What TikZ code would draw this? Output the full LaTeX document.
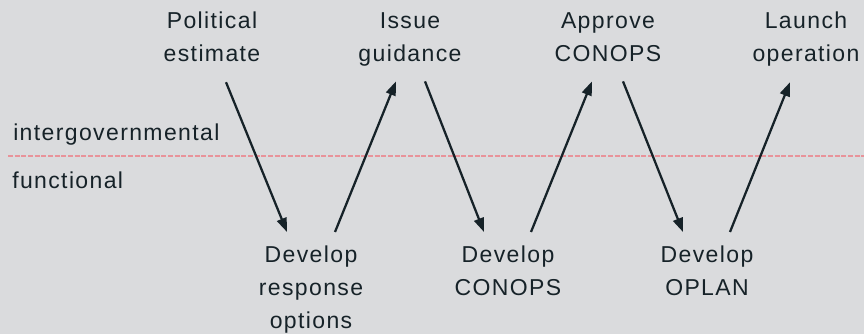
\documentclass[tikz,border=0pt]{standalone}
\usepackage{fontspec}
\setmainfont{Liberation Sans}[LetterSpace=6]
\usetikzlibrary{arrows.meta,calc}
\definecolor{bgcol}{HTML}{DADBDD}
\definecolor{inkcol}{HTML}{162228}
\definecolor{splitcol}{HTML}{E8939A}

\begin{document}
\begin{tikzpicture}[x=0.75pt,y=-0.75pt]
	\tikzset{every node/.style=
        {inner sep=0pt, align=center, text=inkcol, font=\fontsize{17.25}{24.75}\selectfont},
        govtext/.style={anchor=north, text depth=0pt},
        functext/.style={anchor=north},
        flow/.style={line width=1.7pt, draw=inkcol, -{Triangle[length=10.5pt,width=7.5pt]}},
        split/.style={line width=1.8pt, draw=splitcol, dash pattern=on 3.75pt off 1.25pt}
     }
	\fill[bgcol] (0,0) rectangle (864,334);
	\useasboundingbox (0,0) rectangle (864,334);

	% levels
	\draw[split] (8,156) -- (864,156);
	\node (intg) at (13,141) [anchor=base west] {intergovernmental};
	\node (func) at (12,189) [anchor=base west] {functional};

	% intergovernmental steps
	\node (pol) at (212,12) [govtext] {Political\\estimate};
	\node (guide) at (410,12) [govtext] {Issue\\guidance};
	\node (appr) at (608,12) [govtext] {Approve\\CONOPS};
	\node (launch) at (806,12) [govtext] {Launch\\operation};

	% functional steps
	\node (resp) at (311,246) [functext] {Develop\\response\\options};
	\node (dcon) at (508,246) [functext] {Develop\\CONOPS};
	\node (oplan) at (707,246) [functext] {Develop\\OPLAN};

	\draw[flow] ($(pol.south)+(14,20)$) -- ($(resp.north)+(-24,-14)$);
	\draw[flow] ($(resp.north)+(24,-14)$) -- ($(guide.south)+(-14,20)$);
	\draw[flow] ($(guide.south)+(15,20)$) -- ($(dcon.north)+(-24,-14)$);
	\draw[flow] ($(dcon.north)+(23,-14)$) -- ($(appr.south)+(-16,20)$);
	\draw[flow] ($(appr.south)+(15,20)$) -- ($(oplan.north)+(-24,-14)$);
	\draw[flow] ($(oplan.north)+(23,-14)$) -- ($(launch.south)+(-16,20)$);
\end{tikzpicture}
\end{document}
